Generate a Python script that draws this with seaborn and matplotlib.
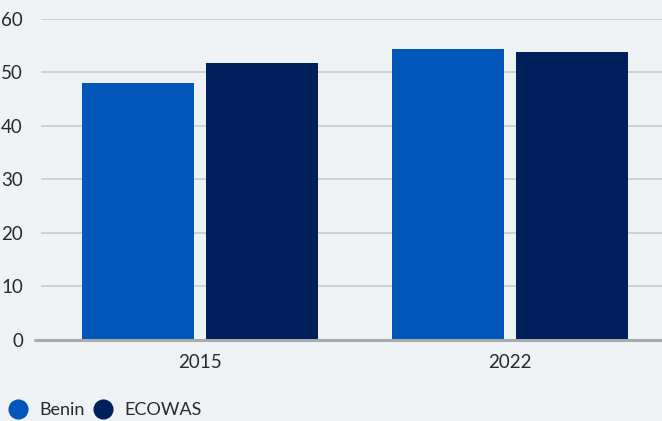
import matplotlib
matplotlib.use("Agg")
import matplotlib.pyplot as plt
import seaborn as sns
import pandas as pd
from matplotlib.lines import Line2D

years = ["2015", "2022"]
series = ["Benin", "ECOWAS"]
benin = [47.9, 54.3]
ecowas = [51.7, 53.7]
yticks = [0, 10, 20, 30, 40, 50, 60]

colors = {"Benin": "#0057B8", "ECOWAS": "#00205B"}
bg = "#EEF2F5"

df = pd.DataFrame({
    "year": years * 2,
    "series": ["Benin"] * len(years) + ["ECOWAS"] * len(years),
    "value": benin + ecowas,
})

sns.set_theme(style="white")
plt.rcParams["font.family"] = ["Lato", "DejaVu Sans"]

fig = plt.figure(figsize=(6.62, 4.21), dpi=100, facecolor=bg)
ax = fig.add_axes([41 / 662, 1 - 340 / 421, 1 - 41 / 662, (340 - 18.5) / 421])
ax.set_facecolor(bg)

sns.barplot(data=df, x="year", y="value", hue="series", palette=colors,
            width=0.8, gap=0.1, ax=ax, legend=False, saturation=1,
            order=years, hue_order=series, linewidth=0, edgecolor="none")

ax.set_ylim(0, 60)
ax.set_xlim(-0.513, 1.49)
ax.set_yticks(yticks)
ax.yaxis.grid(True, color="#c3c7cb", linewidth=1.1)
ax.set_axisbelow(True)
for s in ["top", "right", "left", "bottom"]:
    ax.spines[s].set_visible(False)
ax.axhline(0, color="#a8abae", linewidth=2.2, zorder=5, xmin=-0.01, clip_on=False)
ax.set_xlabel("")
ax.set_ylabel("")
ax.tick_params(axis="y", length=0, pad=13, labelsize=13.5, labelcolor="#2a2a2a")
ax.tick_params(axis="x", length=0, pad=10, labelsize=13.5, labelcolor="#2a2a2a")

handles = [Line2D([], [], marker="o", linestyle="", markersize=13.5,
                  markerfacecolor=colors[s], markeredgecolor=colors[s]) for s in series]
fig.legend(handles, series, loc="center left", bbox_to_anchor=(9 / 662, 1 - 410 / 421),
           ncol=2, frameon=False, fontsize=13, handletextpad=0.7, handlelength=1.0,
           columnspacing=0.5, borderaxespad=0.0, borderpad=0.0, labelcolor="#2a2a2a")

fig.savefig("out.png", dpi=100, facecolor=bg)
